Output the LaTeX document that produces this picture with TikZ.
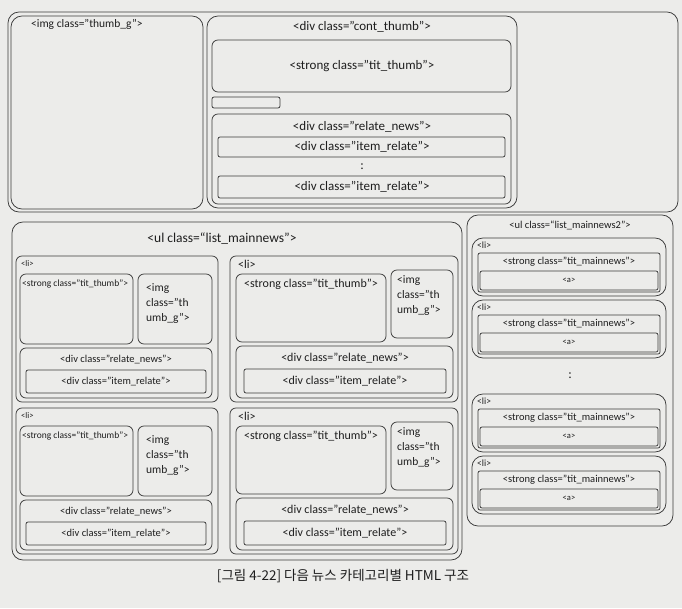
\documentclass[tikz,border=0pt]{standalone}
\usepackage{fontspec}
\setmainfont{Carlito}
\newfontfamily\krfont{Noto Sans CJK KR}
\usetikzlibrary{fit}
\definecolor{paper}{HTML}{ECECEA}
\definecolor{linec}{HTML}{3A3A3A}
\definecolor{txtc}{HTML}{1E1E1E}
\tikzset{
  big/.style={draw=linec, line width=0.75pt, rounded corners=11pt, inner sep=0pt},
  mid/.style={draw=linec, line width=0.75pt, rounded corners=6pt, inner sep=0pt},
  sml/.style={draw=linec, line width=0.75pt, rounded corners=2pt, inner sep=0pt},
  lab/.style={text=txtc, inner sep=1pt, font=\fontsize{13}{15}\selectfont},
  labm/.style={text=txtc, inner sep=1pt, font=\fontsize{12}{14}\selectfont},
  labimg/.style={text=txtc, inner sep=1pt, font=\fontsize{11.5}{15}\selectfont},
  labs/.style={text=txtc, inner sep=1pt, font=\fontsize{10.5}{12}\selectfont},
  labxs/.style={text=txtc, inner sep=1pt, font=\fontsize{9.5}{11}\selectfont},
  labt/.style={text=txtc, inner sep=1pt, font=\fontsize{8.5}{10}\selectfont},
}
\newcommand\bx[6]{\node[#2, fit={(#3,#4) (#5,#6)}] (#1) {};}
% left-column li: name, y0
\newcommand\liLeft[2]{%
  \bx{#1}{mid}{16}{#2}{218}{#2+146}
  \node[labt, anchor=north west] (#1l) at (20,{#2+3}) {<li>};
  \bx{#1s}{mid}{20}{#2+18}{133}{#2+88}
  \node[labxs, anchor=north west] (#1st) at (21,{#2+23}) {<strong class="tit\_thumb">};
  \bx{#1i}{mid}{138}{#2+18}{212}{#2+88}
  \node[labimg, anchor=north west, align=left] (#1it) at (145,{#2+26}) {<img\\class="th\\umb\_g">};
  \bx{#1r}{mid}{20}{#2+92}{212}{#2+142}
  \node[labs] (#1rt) at (116,{#2+103}) {<div class="relate\_news">};
  \bx{#1e}{sml}{26}{#2+114}{206}{#2+137}
  \node[labs] (#1et) at (116,{#2+125.5}) {<div class="item\_relate">};
}
% right-column li: name, y0
\newcommand\liRight[2]{%
  \bx{#1}{mid}{230}{#2}{458}{#2+146}
  \node[labm, anchor=north west] (#1l) at (237,{#2+3}) {<li>};
  \bx{#1s}{mid}{236}{#2+18}{386}{#2+86}
  \node[labm, anchor=north] (#1st) at (311,{#2+22}) {<strong class="tit\_thumb">};
  \bx{#1i}{mid}{391}{#2+14}{453}{#2+82}
  \node[labimg, anchor=north west, align=left] (#1it) at (396,{#2+18}) {<img\\class="th\\umb\_g">};
  \bx{#1r}{mid}{236}{#2+90}{453}{#2+142}
  \node[labm] (#1rt) at (345,{#2+102}) {<div class="relate\_news">};
  \bx{#1e}{sml}{244}{#2+113}{446}{#2+137}
  \node[labm] (#1et) at (345,{#2+125}) {<div class="item\_relate">};
}
% mainnews2 li: name, y0
\newcommand\liNews[2]{%
  \bx{#1}{big}{472}{#2}{666}{#2+58}
  \node[labxs, anchor=north west] (#1l) at (476,{#2+3}) {<li>};
  \bx{#1s}{sml}{478}{#2+15}{660}{#2+54}
  \node[labs] (#1st) at (569,{#2+24}) {<strong class="tit\_mainnews">};
  \bx{#1a}{sml}{480}{#2+33}{658}{#2+52}
  \node[labt] (#1at) at (569,{#2+42.5}) {<a>};
}
\begin{document}
\begin{tikzpicture}[x=1pt, y=-1pt]
\fill[paper] (0,0) rectangle (682,608);
\useasboundingbox (0,0) rectangle (682,608);
% ---------- top block ----------
\bx{top}{big}{8}{12}{678}{212}
\bx{thumbg}{big}{11}{16}{203}{209}
\node[labimg, anchor=north west] (thumbgt) at (30,18) {<img class="thumb\_g">};
\bx{cont}{big}{207}{16}{517}{208}
\node[lab] (contt) at (362,27) {<div class="cont\_thumb">};
\bx{tit}{mid}{212}{40}{511}{92}
\node[lab] (titt) at (362,66) {<strong class="tit\_thumb">};
\bx{bar}{sml}{212}{97}{280}{108}
\bx{rel}{mid}{212}{114}{511}{204}
\node[lab] (relt) at (362,127) {<div class="relate\_news">};
\bx{item1}{sml}{218}{137}{505}{157}
\node[lab] (item1t) at (362,147) {<div class="item\_relate">};
\node[lab] (dots1) at (362,167) {:};
\bx{item2}{sml}{218}{176}{505}{198}
\node[lab] (item2t) at (362,187) {<div class="item\_relate">};
% ---------- list_mainnews ----------
\bx{ul}{big}{12}{222}{462}{560}
\node[text=txtc, inner sep=1pt, font=\fontsize{13.5}{15}\selectfont] (ult) at (222,239) {<ul class=“list\_mainnews”>};
\liLeft{lia}{256}
\liRight{lib}{256}
\liLeft{lic}{408}
\liRight{lid}{408}
% ---------- list_mainnews2 ----------
\bx{ultwo}{big}{467}{215}{673}{526}
\node[labs] (ultwot) at (570,225) {<ul class=“list\_mainnews2”>};
\liNews{na}{238}
\liNews{nb}{300}
\node[lab] (dots2) at (570,376) {:};
\liNews{nc}{394}
\liNews{nd}{456}
% ---------- caption ----------
\node[text=txtc, font=\krfont\fontsize{13.5}{15}\selectfont] (cap) at (343,576) {[그림 4-22] 다음 뉴스 카테고리별 HTML 구조};
\end{tikzpicture}
\end{document}
